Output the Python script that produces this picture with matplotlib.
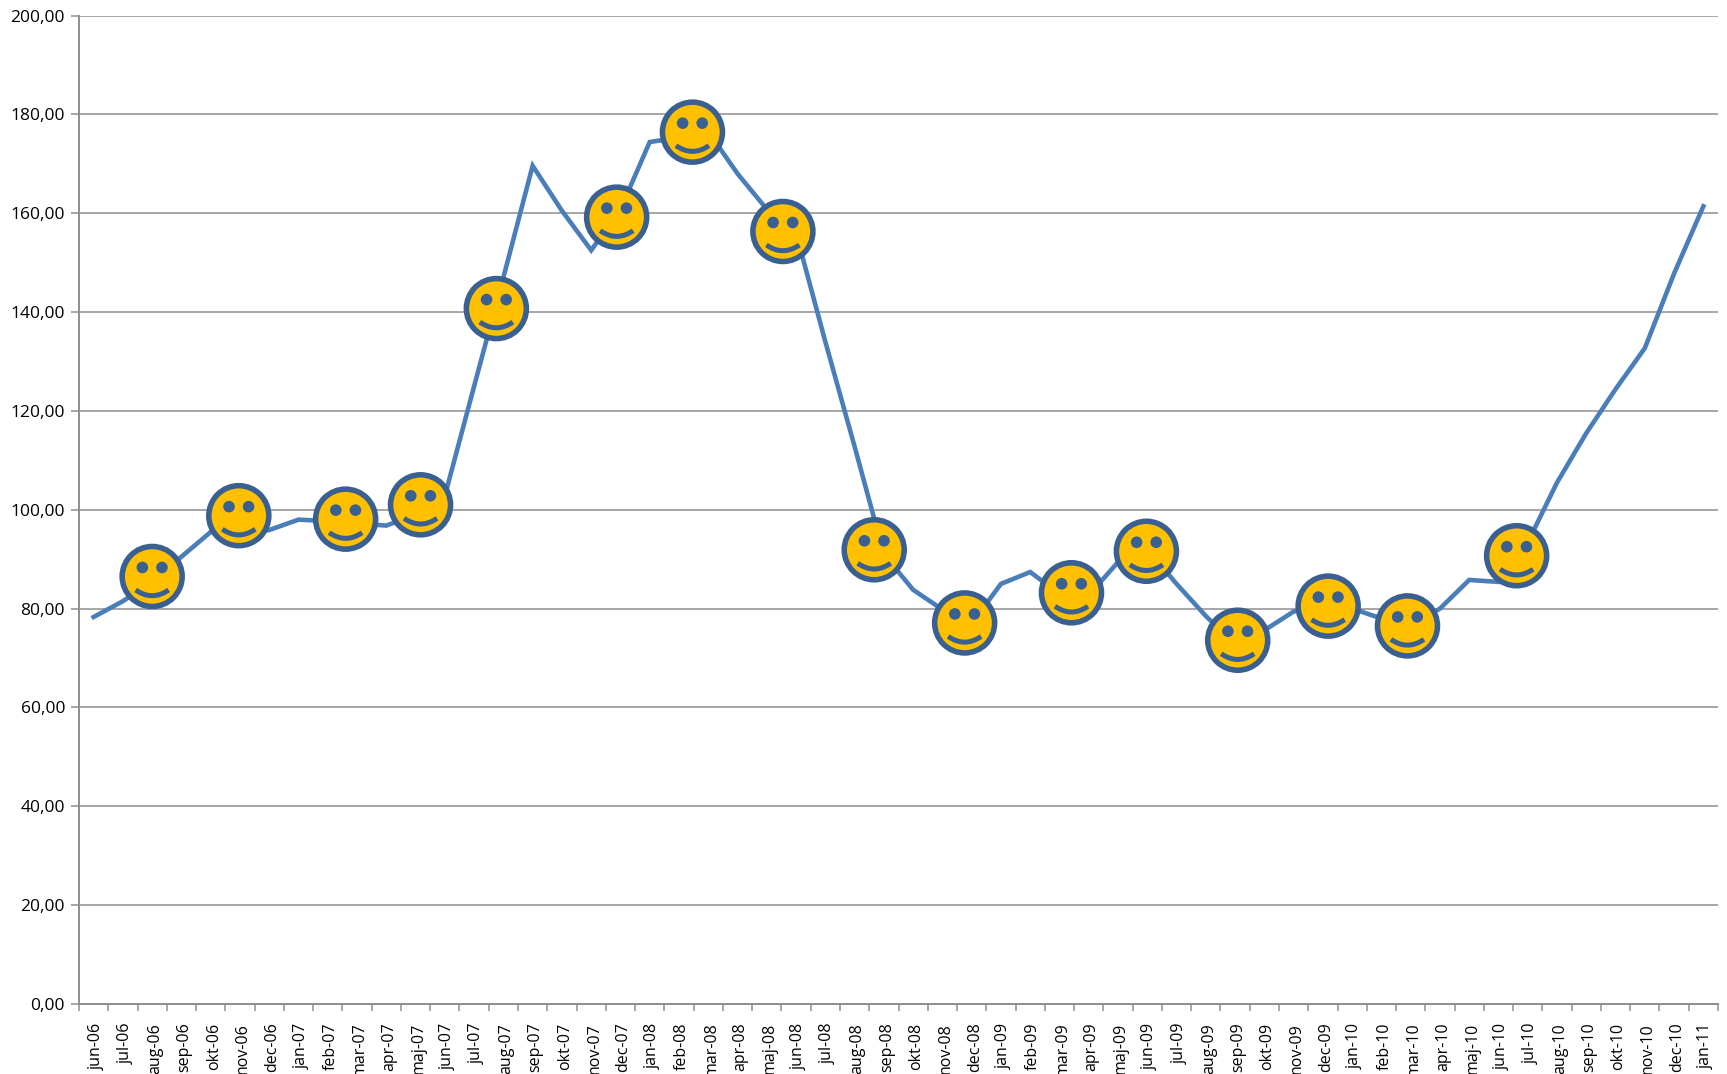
import numpy as np
from matplotlib import pyplot as plt
from matplotlib.patches import Circle, PathPatch
from matplotlib.path import Path
from matplotlib.transforms import Affine2D

plt.rcParams['font.family'] = ['Open Sans', 'DejaVu Sans']

months = ["jan", "feb", "mar", "apr", "maj", "jun", "jul", "aug", "sep", "okt", "nov", "dec"]
labels = []
for year in range(6, 12):
    for m in months:
        labels.append(m + "-%02d" % year)
labels = labels[5:61]  # jun-06 to jan-11

values = [78.3, 81.5, 85.5, 90.5, 95.5, 95.0, 95.9, 98.0, 97.7, 97.2, 96.8, 99.0,
          102.8, 125.0, 147.0, 169.6, 160.5, 152.5, 160.8, 174.4, 175.3, 176.5,
          168.0, 160.8, 156.0, 134.0, 112.8, 91.0, 83.8, 79.8, 77.0, 85.0,
          87.4, 83.0, 82.7, 89.4, 92.0, 85.0, 78.5, 72.7, 75.6, 79.4,
          80.5, 80.0, 78.0, 76.5, 80.0, 85.8, 85.4, 93.4, 105.5, 115.5,
          124.4, 132.7, 147.8, 161.4]

# smileys were placed by hand on the chart, so not exactly on the months
smiley_x = [2.0, 4.96, 8.61, 11.17, 13.76, 17.87, 20.46, 23.55,
            26.67, 29.76, 33.41, 35.97, 39.09, 42.18, 44.89, 48.62]
smiley_y = [86.5, 98.8, 98.1, 101.0, 140.7, 159.2, 176.4, 156.3,
            91.9, 77.1, 83.2, 91.6, 73.6, 80.5, 76.5, 90.7]

yticks = np.arange(0, 201, 20)
gray = "#8e8e8e"
edge = "#3a6091"

fig = plt.figure(figsize=(17.27, 10.74), dpi=100)
ax = fig.add_axes([79 / 1727, 1 - 1004 / 1074, (1718 - 79) / 1727, (1004 - 15.5) / 1074])

ax.plot(range(len(values)), values, color="#4a7ebb", lw=3.3, solid_joinstyle="miter", zorder=3)
ax.set_xlim(-0.5, 55.5)
ax.set_ylim(0, 200)

ax.set_yticks(yticks)
ax.set_yticklabels(["%d,00" % y for y in yticks], fontsize=12.5, color="black")
ax.grid(axis="y", color=gray, lw=1.1, zorder=1)
ax.set_axisbelow(True)

# ticks between the categories, labels in the middle
ax.set_xticks(np.arange(-0.5, 56, 1))
ax.set_xticklabels([])
ax.set_xticks(np.arange(56), minor=True)
ax.set_xticklabels(labels, minor=True, rotation=90, fontsize=11.5, va="top", ha="center")
ax.tick_params(axis="x", which="minor", length=0, pad=13.5)
ax.tick_params(axis="x", which="major", length=5, width=1.1, color=gray)
ax.tick_params(axis="y", length=6, width=1.1, color=gray, pad=4)

# nudge month labels a bit to the right
shift = Affine2D().translate(3, 0)
for lab in ax.get_xticklabels(minor=True):
    lab.set_transform(lab.get_transform() + shift)

for side in ["top", "right"]:
    ax.spines[side].set_visible(False)
for side in ["left", "bottom"]:
    ax.spines[side].set_color(gray)
    ax.spines[side].set_linewidth(1.4)

mouth = Path([(-16.5, -13.5), (0, -25), (16.5, -13.5)], [Path.MOVETO, Path.CURVE3, Path.CURVE3])

def draw_smiley(x, y):
    px, py = ax.transData.transform((x, y))
    t = Affine2D().translate(px, py)  # 1 unit = 1 px on screen
    ax.add_patch(Circle((0, 0), 30, transform=t, fc="#ffc000", ec=edge, lw=4, zorder=5))
    for dx in [-9.8, 9.8]:
        ax.add_patch(Circle((dx, 9), 5.8, transform=t, fc=edge, ec="none", zorder=6))
    ax.add_patch(PathPatch(mouth, transform=t, fc="none", ec=edge, lw=3.6, capstyle="butt", zorder=6))

for x, y in zip(smiley_x, smiley_y):
    draw_smiley(x, y)

fig.savefig("out.png", dpi=100)
